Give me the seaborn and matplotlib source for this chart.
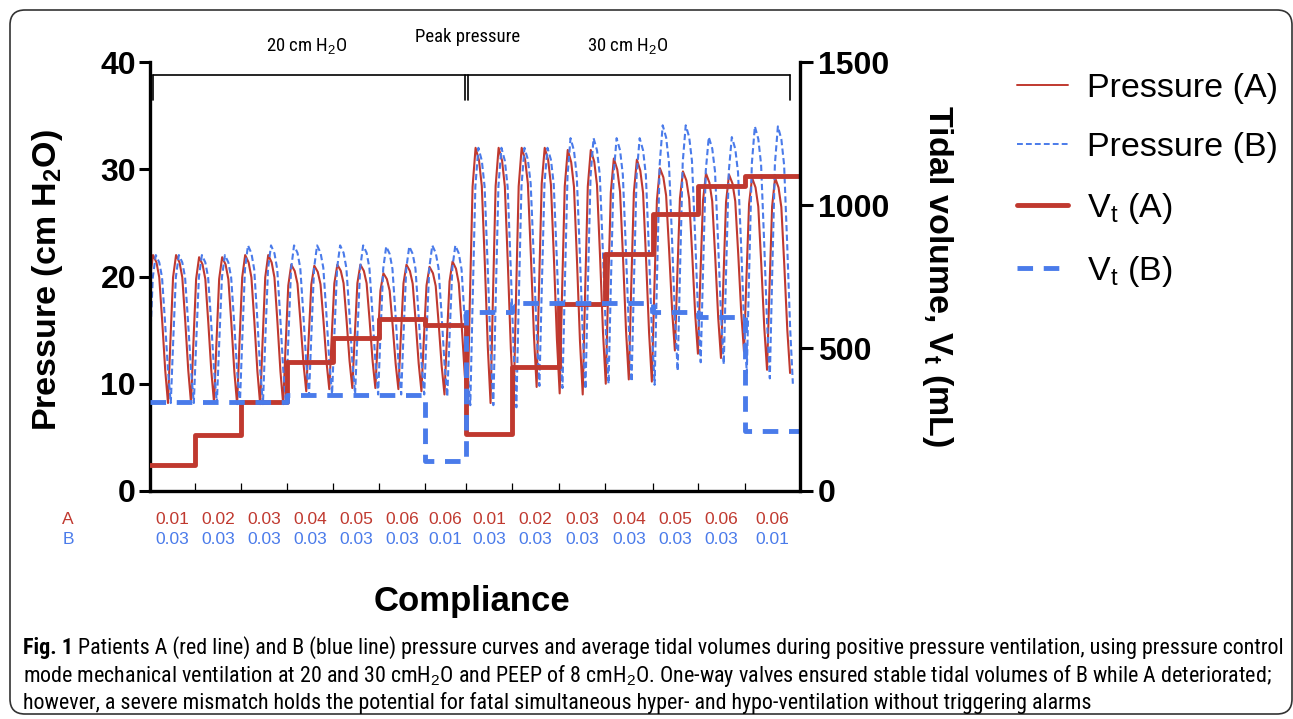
"""Split ventilation: pressure curves and tidal volumes of patients A and B."""

import matplotlib

matplotlib.use("Agg")
import matplotlib.pyplot as plt
import pandas as pd
import seaborn as sns
from matplotlib import font_manager
from matplotlib.lines import Line2D
from matplotlib.patches import FancyBboxPatch
from matplotlib.transforms import blended_transform_factory

RED = "#C0392F"
BLUE = "#4A7BEA"

# compliance steps along the time axis (in breaths)
seg_edges = [0, 1.95, 3.9, 5.9, 7.9, 9.85, 11.85, 13.6, 15.6, 17.6, 19.6, 21.65, 23.6, 25.65, 28.0]
vt_a = [90, 195, 310, 450, 535, 600, 580, 200, 435, 655, 830, 970, 1065, 1100]
vt_b = [310, 310, 310, 335, 335, 335, 105, 627, 656, 656, 656, 627, 610, 210]
comp_a = ["0.01", "0.02", "0.03", "0.04", "0.05", "0.06", "0.06",
          "0.01", "0.02", "0.03", "0.04", "0.05", "0.06", "0.06"]
comp_b = ["0.03", "0.03", "0.03", "0.03", "0.03", "0.03", "0.01",
          "0.03", "0.03", "0.03", "0.03", "0.03", "0.03", "0.01"]

# per-breath peak pressure and the trough before each breath (last = end value)
peak_a = [22.0, 22.0, 21.8, 21.8, 22.0, 22.0, 21.1, 21.0, 21.1, 21.1, 20.3, 21.1, 20.9, 21.4,
          32.0, 32.0, 32.0, 32.0, 31.8, 31.8, 31.0, 30.9, 30.1, 29.8, 29.6, 29.5, 29.2, 29.2]
peak_b = [22.0, 22.0, 22.0, 22.0, 22.9, 22.9, 22.9, 22.9, 22.9, 22.9, 22.8, 22.8, 22.9, 22.9,
          32.0, 32.0, 32.0, 32.0, 32.9, 32.9, 32.9, 32.9, 34.1, 34.1, 33.0, 33.0, 34.0, 34.0]
trough_a = [8.2, 8.2, 8.2, 8.2, 8.1, 8.1, 8.1, 9.3, 9.5, 9.6, 9.6, 9.5, 9.3, 9.0,
            7.9, 8.2, 8.0, 9.7, 9.1, 9.0, 10.0, 10.4, 10.2, 13.1, 12.8, 12.4, 13.0, 11.3, 11.0]
trough_b = [8.2, 8.2, 8.2, 8.2, 8.1, 8.1, 8.1, 8.9, 9.0, 9.0, 9.0, 9.0, 9.0, 8.8,
            8.0, 8.0, 7.8, 9.8, 9.6, 9.5, 10.0, 10.2, 9.9, 11.2, 12.0, 11.8, 11.0, 10.5, 10.0]

# ventilator timing and the shape of one breath (fraction of the swing)
PERIOD = 0.9925
FIRST_PEAK_A = 0.13
FIRST_PEAK_B = 0.25
PEAK_PHASE = 0.35
SHAPE_PHASE = [0.0, 0.1, 0.22, 0.35, 0.5, 0.62, 0.75, 0.88]
SHAPE_LEVEL = [0.0, 0.4, 0.85, 1.0, 0.95, 0.85, 0.55, 0.22]


def breath_trace(peaks, troughs, first_peak):
    t, p = [], []
    start = 0.0
    for k, pk in enumerate(peaks):
        start = first_peak + (k - PEAK_PHASE) * PERIOD
        for ph, lv in zip(SHAPE_PHASE, SHAPE_LEVEL):
            base = troughs[k] if ph <= PEAK_PHASE else troughs[k + 1]
            t.append(start + ph * PERIOD)
            p.append(base + lv * (pk - base))
    t.append(start + PERIOD)
    p.append(troughs[-1])
    return t, p


def build_frames():
    rows = []
    for name, peaks, troughs, first in [("A", peak_a, trough_a, FIRST_PEAK_A),
                                         ("B", peak_b, trough_b, FIRST_PEAK_B)]:
        t, p = breath_trace(peaks, troughs, first)
        rows += [{"t": ti, "p": pi, "patient": name} for ti, pi in zip(t, p)]
    press = pd.DataFrame(rows)

    rows = []
    for name, vols in [("A", vt_a), ("B", vt_b)]:
        for x, v in zip(seg_edges[:-1], vols):
            rows.append({"t": x, "vt": v, "patient": name})
        rows.append({"t": seg_edges[-1], "vt": vols[-1], "patient": name})
    vt = pd.DataFrame(rows)
    return press, vt


def pick_narrow():
    names = {f.name for f in font_manager.fontManager.ttflist}
    for name in ["Liberation Sans Narrow", "Roboto Condensed", "Open Sans Condensed",
                 "DejaVu Sans Condensed", "Roboto"]:
        if name in names:
            return name
    return "DejaVu Sans"


def main():
    sns.set_style("ticks")
    narrow = pick_narrow()
    plt.rcParams["font.family"] = ["Liberation Sans", "DejaVu Sans"]
    plt.rcParams["mathtext.fontset"] = "custom"
    plt.rcParams["mathtext.rm"] = "Liberation Sans"
    plt.rcParams["mathtext.bf"] = "Liberation Sans:bold"
    for key in ["text.color", "axes.labelcolor", "xtick.color", "ytick.color",
                "axes.edgecolor"]:
        plt.rcParams[key] = "black"

    press, vt = build_frames()

    fig = plt.figure(figsize=(12.93, 7.19), dpi=100)
    ax = fig.add_axes([150 / 1293, 1 - 491 / 719, 650 / 1293, 429 / 719])

    sns.lineplot(data=press, x="t", y="p", hue="patient", style="patient",
                 palette={"A": RED, "B": BLUE}, dashes={"A": "", "B": (3, 1.6)},
                 sort=False, estimator=None, lw=1.5, legend=False, ax=ax)
    ax.set_xlim(0, 28)
    ax.set_ylim(0, 40)
    ax.set_yticks([0, 10, 20, 30, 40])
    ax.set_xticks(seg_edges[1:-1])
    ax.set_xlabel("")
    ax.set_ylabel("")
    ax.tick_params(axis="x", direction="in", length=6, width=0.9, labelbottom=False)
    ax.tick_params(axis="y", direction="out", length=8, width=2.2, labelsize=23, pad=2)
    for lab in ax.get_yticklabels():
        lab.set_fontweight("bold")
    for side in ["top", "right"]:
        ax.spines[side].set_visible(False)
    for side in ["left", "bottom"]:
        ax.spines[side].set_linewidth(2.4)

    # peak pressure bracket
    for xs, ys in [([0.12, 27.55], [38.8, 38.8]), ([0.12, 0.12], [38.8, 36.5]),
                   ([13.55, 13.55], [38.8, 36.5]), ([13.68, 13.68], [38.8, 36.5]),
                   ([27.55, 27.55], [38.8, 36.5])]:
        ax.plot(xs, ys, color="black", lw=1.2)

    ax2 = ax.twinx()
    sns.lineplot(data=vt, x="t", y="vt", hue="patient", style="patient",
                 palette={"A": RED, "B": BLUE}, dashes={"A": "", "B": (3.2, 2.2)},
                 sort=False, estimator=None, lw=3.5, drawstyle="steps-post",
                 legend=False, ax=ax2)
    ax2.set_xlim(0, 28)
    ax2.set_ylim(0, 1500)
    ax2.set_yticks([0, 500, 1000, 1500])
    ax2.set_ylabel("")
    ax2.tick_params(axis="y", direction="out", length=9, width=2.2, labelsize=23, pad=4)
    for lab in ax2.get_yticklabels():
        lab.set_fontweight("bold")
    for side in ["top", "left", "bottom"]:
        ax2.spines[side].set_visible(False)
    ax2.spines["right"].set_linewidth(2.4)

    fig.text(48 / 1293, 1 - 280 / 719, "Pressure (cm H$_\\mathbf{2}$O)", rotation=90,
             fontsize=24.5, fontweight="bold", ha="center", va="center")
    fig.text(937 / 1293, 1 - 276 / 719, "Tidal volume, V$_\\mathbf{t}$ (mL)", rotation=270,
             fontsize=24.5, fontweight="bold", ha="center", va="center")

    top_kw = dict(fontsize=13.5, family=[narrow, "Liberation Sans"], ha="center", va="center",
                  transform=blended_transform_factory(ax.transData, fig.transFigure))
    ax.text(6.77, 1 - 47 / 719, "20 cm H$_2$O", **top_kw)
    ax.text(13.7, 1 - 37 / 719, "Peak pressure", **top_kw)
    ax.text(20.56, 1 - 47 / 719, "30 cm H$_2$O", **top_kw)

    # compliance rows under the x axis
    row_tr = blended_transform_factory(ax.transData, fig.transFigure)
    for i in range(len(comp_a)):
        mid = (seg_edges[i] + seg_edges[i + 1]) / 2
        ax.text(mid, 1 - 520 / 719, comp_a[i], color=RED, fontsize=12.5,
                ha="center", va="center", transform=row_tr)
        ax.text(mid, 1 - 540 / 719, comp_b[i], color=BLUE, fontsize=12.5,
                ha="center", va="center", transform=row_tr)
    fig.text(68 / 1293, 1 - 520 / 719, "A", color=RED, fontsize=12.5, ha="center", va="center")
    fig.text(68 / 1293, 1 - 540 / 719, "B", color=BLUE, fontsize=12.5, ha="center", va="center")
    fig.text(472 / 1293, 1 - 602 / 719, "Compliance", fontsize=25, fontweight="bold",
             ha="center", va="center")

    handles = [
        Line2D([], [], color=RED, lw=1.4),
        Line2D([], [], color=BLUE, lw=1.4, dashes=(3, 1.6)),
        Line2D([], [], color=RED, lw=3.5),
        Line2D([], [], color=BLUE, lw=3.5, dashes=(3.2, 2.2)),
    ]
    labels = ["Pressure (A)", "Pressure (B)", "V$_\\mathrm{t}$ (A)", "V$_\\mathrm{t}$ (B)"]
    fig.legend(handles, labels, loc="upper left", bbox_to_anchor=(1000 / 1293, 1 - 56 / 719),
               frameon=False, fontsize=24.5, handlelength=1.5, handletextpad=0.55,
               labelspacing=0.82, borderpad=0)

    # caption
    cap_kw = dict(family=[narrow, "Liberation Sans"], ha="left", va="center")
    lines = [
        " Patients A (red line) and B (blue line) pressure curves and average tidal volumes "
        "during positive pressure ventilation, using pressure control",
        "mode mechanical ventilation at 20 and 30 cmH$_2$O and PEEP of 8 cmH$_2$O. One-way "
        "valves ensured stable tidal volumes of B while A deteriorated;",
        "however, a severe mismatch holds the potential for fatal simultaneous hyper- and "
        "hypo-ventilation without triggering alarms",
    ]
    renderer = fig.canvas.get_renderer()
    size = 13.0
    probe_a = fig.text(0, 0, "Fig. 1", fontsize=size, fontweight="bold", **cap_kw)
    probe_b = fig.text(0, 0, lines[0], fontsize=size, **cap_kw)
    width = (probe_a.get_window_extent(renderer).width
             + probe_b.get_window_extent(renderer).width)
    probe_a.remove()
    probe_b.remove()
    size *= 1257 / width

    x0 = 23 / 1293
    fig_tag = fig.text(x0, 1 - 648 / 719, "Fig. 1", fontsize=size, fontweight="bold", **cap_kw)
    tag_w = fig_tag.get_window_extent(renderer).width / 1293
    fig.text(x0 + tag_w, 1 - 648 / 719, lines[0], fontsize=size, **cap_kw)
    fig.text(x0, 1 - 676 / 719, lines[1], fontsize=size, **cap_kw)
    fig.text(x0, 1 - 703 / 719, lines[2], fontsize=size, **cap_kw)

    frame = FancyBboxPatch((0.10, 0.05), 12.82, 7.04,
                           boxstyle="round,pad=0,rounding_size=0.15",
                           transform=fig.dpi_scale_trans, fill=False, lw=1.2,
                           ec="#333333", clip_on=False)
    fig.patches.append(frame)

    fig.savefig("out.png", dpi=100)


if __name__ == "__main__":
    main()
